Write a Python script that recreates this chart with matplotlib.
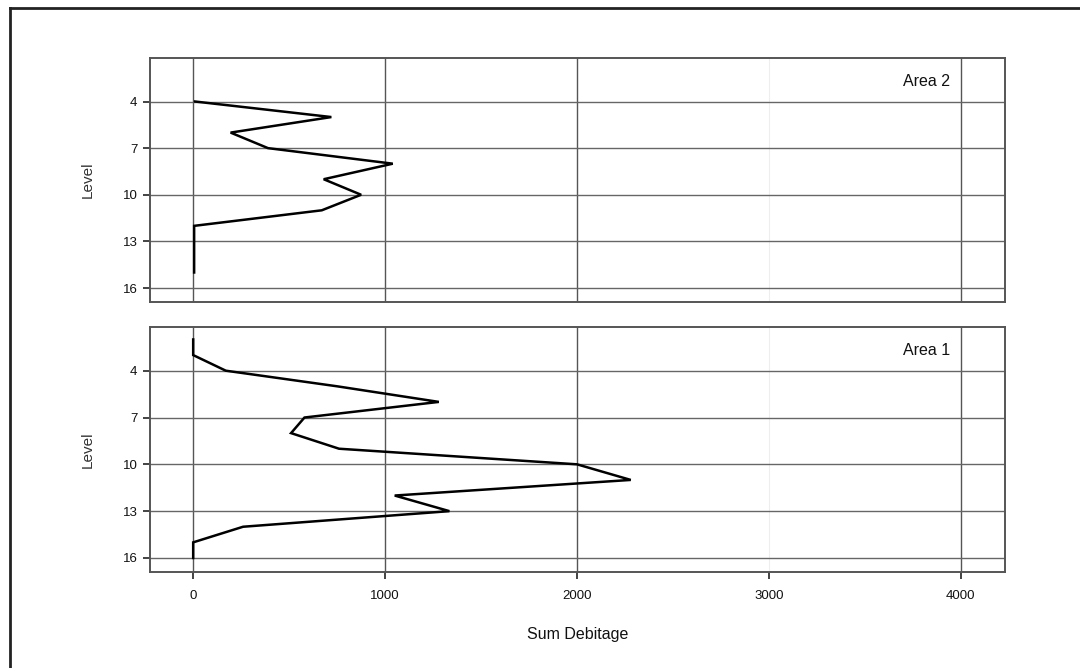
import matplotlib
matplotlib.use("Agg")
import matplotlib.pyplot as plt
from matplotlib.lines import Line2D

# Area 2 (upper panel)
area2_levels = [4, 5, 6, 7, 8, 9, 10, 11, 12, 13, 14, 15]
area2_debitage = [10, 720, 195, 390, 1040, 680, 875, 670, 5, 5, 5, 5]

# Area 1 (lower panel)
area1_levels = [2, 3, 4, 5, 6, 7, 8, 9, 10, 11, 12, 13, 14, 15, 16]
area1_debitage = [0, 0, 170, 750, 1280, 580, 510, 760, 2000, 2280, 1050, 1335, 260, 0, 0]

x_ticks = [0, 1000, 2000, 3000, 4000]
y_ticks = [4, 7, 10, 13, 16]
panel_titles = ["Area 2", "Area 1"]

plt.rcParams['font.family'] = ['Liberation Sans', 'DejaVu Sans']

fig = plt.figure(figsize=(10.8, 6.68), dpi=100)
W, H = 1080, 668

def ax_rect(l, t, r, b):
    return [l / W, 1 - b / H, (r - l) / W, (b - t) / H]

ax_top = fig.add_axes(ax_rect(150, 58, 1005, 302))
ax_bot = fig.add_axes(ax_rect(150, 327, 1005, 572))

panels = [(ax_top, area2_levels, area2_debitage, panel_titles[0]),
          (ax_bot, area1_levels, area1_debitage, panel_titles[1])]

for ax, lev, val, title in panels:
    ax.set_xlim(-225, 4230)
    ax.set_ylim(16.9, 1.2)
    ax.set_xticks(x_ticks)
    ax.set_yticks(y_ticks)
    for xt in x_ticks:
        if xt == 3000:
            ax.axvline(xt, color='#eeeeee', lw=0.8, zorder=1)
        else:
            ax.axvline(xt, color='#555555', lw=1.0, zorder=1)
    for yt in y_ticks:
        ax.axhline(yt, color='#666666', lw=1.0, zorder=1)
    ax.plot(val, lev, color='black', lw=1.8, zorder=3, solid_joinstyle='miter')
    for sp in ax.spines.values():
        sp.set_color('#555555')
        sp.set_linewidth(1.4)
    ax.tick_params(axis='both', direction='out', length=5, width=1.2, color='#222222',
                   labelsize=9.5, labelcolor='#111111')
    ax.tick_params(axis='y', pad=4)
    ax.set_ylabel("Level", fontsize=11, color='#333333', labelpad=20)
    ax.text(0.936, 0.935, title, transform=ax.transAxes, ha='right', va='top',
            fontsize=11.5, color='#111111')

ax_top.tick_params(axis='x', labelbottom=False, length=0)
for t in ax_bot.xaxis.get_major_ticks():
    if t.get_loc() == 3000:
        t.tick1line.set_color('#cccccc')
ax_bot.tick_params(axis='x', pad=8)
ax_bot.set_xlabel("Sum Debitage", fontsize=11.5, color='#111111', labelpad=18)

# figure frame (left and top edges)
fig.add_artist(Line2D([10 / W, 10 / W], [0, 1 - 8 / H], transform=fig.transFigure,
                      color='#222222', lw=2))
fig.add_artist(Line2D([10 / W, 1], [1 - 8 / H, 1 - 8 / H], transform=fig.transFigure,
                      color='#222222', lw=2))

fig.savefig("out.png", dpi=100)
